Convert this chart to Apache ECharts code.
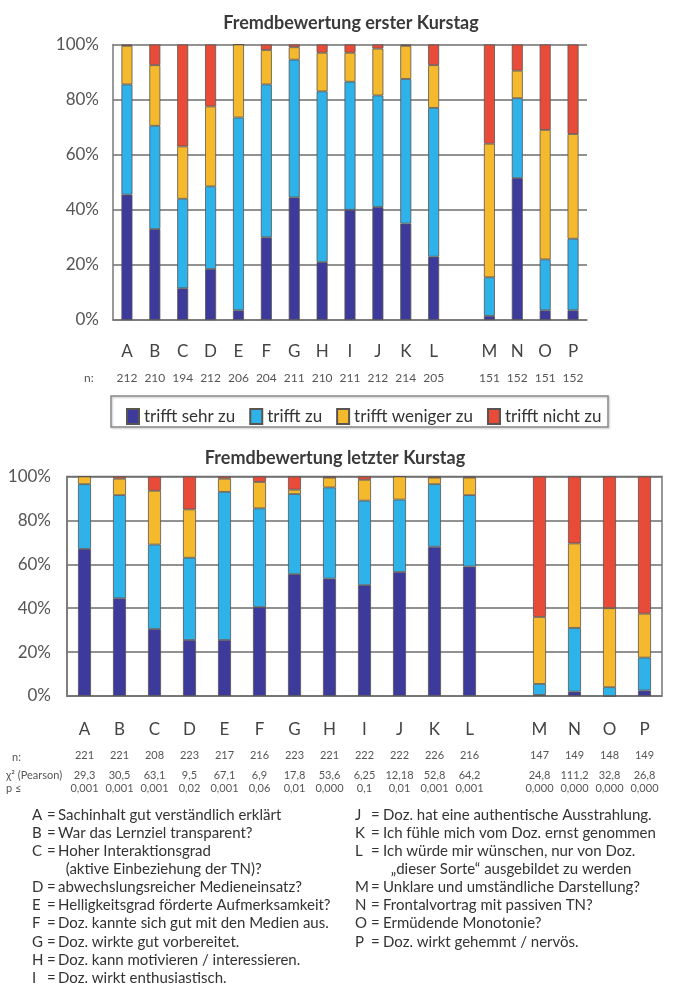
<!DOCTYPE html>
<html>
	<head>
		<meta charset="utf-8">
		<script src="https://cdn.jsdelivr.net/npm/echarts@6/dist/echarts.min.js"></script>
		<style>
			html, body { margin:0; padding:0; background:#fff; }
			#main { width:674px; height:999px; }
		</style>
	</head>
	<body>
		<div id="main"></div>
		<script>
			// Kategorien, Lücke zwischen L und M
			var categories = ['A','B','C','D','E','F','G','H','I','J','K','L','','M','N','O','P'];
			var seriesNames = ['trifft sehr zu','trifft zu','trifft weniger zu','trifft nicht zu'];
			var yTicks = [0, 20, 40, 60, 80, 100];

			// erster Kurstag, Anteile in %
			var first_sehr    = [45.5, 33, 11.5, 18.5, 3.5, 30, 44.5, 21, 40, 41, 35, 23, null, 1.5, 51.5, 3.5, 3.5];
			var first_zu      = [40, 37.5, 32.5, 30, 70, 55.5, 50, 62, 46.5, 40.5, 52.5, 54, null, 14, 29, 18.5, 26];
			var first_weniger = [14, 22, 19, 29, 26.5, 12.5, 4.5, 14, 10.5, 17, 12, 15.5, null, 48.5, 10, 47, 38];
			var first_nicht   = [0.5, 7.5, 37, 22.5, 0, 2, 1, 3, 3, 1.5, 0.5, 7.5, null, 36, 9.5, 31, 32.5];
			var first_n       = ['212','210','194','212','206','204','211','210','211','212','214','205','','151','152','151','152'];

			// letzter Kurstag, Anteile in %
			var last_sehr    = [67, 44.5, 30.5, 25.5, 25.5, 40.5, 55.5, 53.5, 50.5, 56.5, 68, 59, null, 0.5, 2, 0, 2.5];
			var last_zu      = [29.5, 47, 38.5, 37.5, 67.5, 45, 36.5, 41.5, 38.5, 33, 28.5, 32.5, null, 5, 29, 4, 15];
			var last_weniger = [3.5, 7.5, 24.5, 22, 6, 12, 2, 4.5, 9.5, 10.5, 3, 8, null, 30.5, 38.5, 36, 20];
			var last_nicht   = [0, 1, 6.5, 15, 1, 2.5, 6, 0.5, 1.5, 0, 0.5, 0.5, null, 64, 30.5, 60, 62.5];
			var last_n       = ['221','221','208','223','217','216','223','221','222','222','226','216','','147','149','148','149'];
			var last_chi     = ['29,3','30,5','63,1','9,5','67,1','6,9','17,8','53,6','6,25','12,18','52,8','64,2','','24,8','111,2','32,8','26,8'];
			var last_p       = ['0,001','0,001','0,001','0,02','0,001','0,06','0,01','0,000','0,1','0,01','0,001','0,001','','0,000','0,000','0,000','0,000'];

			// Legende unten
			var keysLeft  = ['A','B','C','','D','E','F','G','H','I'];
			var textLeft  = ['Sachinhalt gut verständlich erklärt','War das Lernziel transparent?','Hoher Interaktionsgrad','  (aktive Einbeziehung der TN)?','abwechslungsreicher Medieneinsatz?','Helligkeitsgrad förderte Aufmerksamkeit?','Doz. kannte sich gut mit den Medien aus.','Doz. wirkte gut vorbereitet.','Doz. kann motivieren / interessieren.','Doz. wirkt enthusiastisch.'];
			var keysRight = ['J','K','L','','M','N','O','P'];
			var textRight = ['Doz. hat eine authentische Ausstrahlung.','Ich fühle mich vom Doz. ernst genommen','Ich würde mir wünschen, nur von Doz.','  „dieser Sorte“ ausgebildet zu werden','Unklare und umständliche Darstellung?','Frontalvortrag mit passiven TN?','Ermüdende Monotonie?','Doz. wirkt gehemmt / nervös.'];

			var colors = ['#3c3b9b', '#2db3ea', '#f4b92c', '#e84b38'];
			var font = 'Lato, "Open Sans", sans-serif';

			function makeSeries(arrs, idx, width) {
				var out = [];
				for (var i = 0; i < arrs.length; i++) {
					out.push({
						name: seriesNames[i],
						type: 'bar',
						stack: 'day' + idx,
						xAxisIndex: idx,
						yAxisIndex: idx,
						barWidth: width,
						data: arrs[i],
						itemStyle: { color: colors[i], borderColor: '#5a5450', borderWidth: 0.8 }
					});
				}
				return out;
			}

			var series = makeSeries([first_sehr, first_zu, first_weniger, first_nicht], 0, 11)
				.concat(makeSeries([last_sehr, last_zu, last_weniger, last_nicht], 1, 13));

			var yAxisBase = {
				type: 'value', min: yTicks[0], max: yTicks[yTicks.length - 1], interval: 20,
				axisLine: { show: true, lineStyle: { color: '#777', width: 1.5 } },
				axisTick: { show: false },
				splitLine: { lineStyle: { color: '#6e6e6e', width: 1.5 } },
				axisLabel: { formatter: '{value}%', color: '#555', fontSize: 17, fontFamily: font, margin: 14 }
			};

			// Spalten der Legende unten: Buchstabe, "=", Text
			function listText(x, lines, size) {
				return { type: 'text', style: { x: x, y: 806, text: lines.join('\n'), fill: '#333', font: size + 'px ' + font, lineHeight: 18.1 } };
			}
			function eqs(keys) {
				return keys.map(function (k) { return k === '' ? '' : '='; });
			}

			option = {
				animation: false,
				backgroundColor: '#fff',
				textStyle: { fontFamily: font },
				title: [
					{ text: 'Fremdbewertung erster Kurstag', left: 346, top: 9, textAlign: 'center',
						textStyle: { fontSize: 18, fontWeight: 'bold', color: '#3a3a3a', fontFamily: font } },
					{ text: 'Fremdbewertung letzter Kurstag', left: 330, top: 444, textAlign: 'center',
						textStyle: { fontSize: 18, fontWeight: 'bold', color: '#3a3a3a', fontFamily: font } }
				],
				legend: {
					data: seriesNames,
					left: 121, top: 403,
					icon: 'rect', itemWidth: 12, itemHeight: 15, itemGap: 14,
					textStyle: { fontSize: 17, color: '#333', fontFamily: font }
				},
				grid: [
					{ left: 113, right: 87, top: 44.5, height: 275.5 },
					{ left: 67, right: 12, top: 476.5, height: 219.5, show: true, borderColor: '#777', borderWidth: 1.5 }
				],
				xAxis: [
					{
						type: 'category', gridIndex: 0, data: categories,
						axisLine: { lineStyle: { color: '#777', width: 1.5 } },
						axisTick: { length: 6, lineStyle: { color: '#777', width: 1.2 } },
						axisLabel: {
							interval: 0, margin: 19,
							formatter: function (v, i) {
								if (v === '') return '';
								return '{l|' + v + '}\n{n|' + first_n[i] + '}';
							},
							rich: {
								l: { fontSize: 17, color: '#444', lineHeight: 26, fontFamily: font },
								n: { fontSize: 12, color: '#555', lineHeight: 26, fontFamily: font }
							}
						}
					},
					{
						type: 'category', gridIndex: 1, data: categories,
						axisLine: { lineStyle: { color: '#777', width: 1.5 } },
						axisTick: { length: 6, lineStyle: { color: '#777', width: 1.2 } },
						axisLabel: {
							interval: 0, margin: 22,
							formatter: function (v, i) {
								if (v === '') return '';
								return '{l|' + v + '}\n{n|' + last_n[i] + '}\n{c|' + last_chi[i] + '}\n{p|' + last_p[i] + '}';
							},
							rich: {
								l: { fontSize: 17, color: '#444', lineHeight: 24, fontFamily: font },
								n: { fontSize: 11, color: '#555', lineHeight: 26, fontFamily: font },
								c: { fontSize: 11, color: '#555', lineHeight: 14, fontFamily: font },
								p: { fontSize: 11, color: '#555', lineHeight: 12, fontFamily: font }
							}
						}
					}
				],
				yAxis: [
					Object.assign({ gridIndex: 0 }, yAxisBase),
					Object.assign({ gridIndex: 1 }, yAxisBase, { axisLabel: { formatter: '{value}%', color: '#555', fontSize: 17, fontFamily: font, margin: 16 } })
				],
				graphic: [
					{ type: 'rect', shape: { x: 111, y: 396, width: 497, height: 31 },
						style: { fill: 'none', stroke: '#8a8a8a', lineWidth: 1.5, shadowBlur: 2, shadowColor: 'rgba(0,0,0,0.25)', shadowOffsetX: 1, shadowOffsetY: 1 }, z: 1 },
					{ type: 'text', style: { x: 84, y: 378, text: 'n:', fill: '#555', font: '12px ' + font, verticalAlign: 'middle' } },
					{ type: 'text', style: { x: 12, y: 757, text: 'n:', fill: '#555', font: '11px ' + font, verticalAlign: 'middle' } },
					{ type: 'text', style: { x: 6, y: 775, text: 'χ² (Pearson)', fill: '#555', font: '11px ' + font, verticalAlign: 'middle' } },
					{ type: 'text', style: { x: 6, y: 788, text: 'p ≤', fill: '#555', font: '11px ' + font, verticalAlign: 'middle' } },
					listText(32, keysLeft, 15),
					listText(47, eqs(keysLeft), 15),
					listText(58, textLeft, 15),
					listText(355, keysRight, 15),
					listText(371, eqs(keysRight), 15),
					listText(383, textRight, 15)
				],
				series: series
			};

			var myChart = echarts.init(document.getElementById('main'));
			myChart.setOption(option, true);
		</script>
	</body>
</html>
